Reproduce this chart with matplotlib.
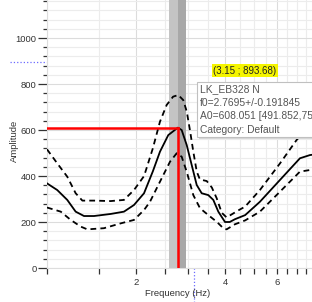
import numpy as np
import matplotlib
matplotlib.use("Agg")
import matplotlib.pyplot as plt
from matplotlib.ticker import FixedLocator, NullFormatter, FixedFormatter
from matplotlib.patches import Rectangle

plt.rcParams['font.family'] = ['Liberation Sans', 'DejaVu Sans']

# median H/V curve
freq_mid = [1.0, 1.083, 1.171, 1.25, 1.334, 1.442, 1.642, 1.821, 1.969, 2.129, 2.28, 2.411,
            2.572, 2.77, 2.854, 2.968, 3.086, 3.209, 3.336, 3.512, 3.652, 3.797, 4.0, 4.15,
            4.32, 4.68, 5.25, 6.14, 7.17, 7.75, 8.4]
amp_mid = [368, 339, 296, 245, 226, 226, 235, 245, 274, 325, 420, 506,
           578, 610, 600, 535, 448, 361, 325, 317, 296, 245, 200, 200,
           212, 230, 288, 383, 477, 491, 497]

# median + std
freq_hi = [1.0, 1.083, 1.171, 1.25, 1.317, 1.442, 1.642, 1.821, 1.969, 2.13, 2.28, 2.41,
           2.54, 2.67, 2.78, 2.89, 2.97, 3.05, 3.125, 3.21, 3.29, 3.47, 3.61, 3.75, 3.9,
           4.05, 4.2, 4.43, 4.68, 5.25, 6.14, 6.99, 7.17, 7.75, 8.4]
amp_hi = [516, 455, 397, 325, 293, 293, 291, 296, 339, 400, 520, 636,
          709, 745, 752, 730, 680, 593, 506, 419, 385, 378, 350, 303, 240,
          220, 232, 250, 267, 339, 455, 557, 572, 600, 625]

# median - std
freq_lo = [1.0, 1.113, 1.203, 1.3, 1.369, 1.558, 1.775, 1.969, 2.129, 2.23, 2.41, 2.606,
           2.746, 2.854, 2.968, 3.125, 3.292, 3.512, 3.75, 3.947, 4.05, 4.32, 4.68, 5.25,
           6.14, 7.17, 7.75, 8.4]
amp_lo = [263, 245, 209, 180, 168, 173, 194, 209, 252, 288, 375, 462,
          499, 484, 419, 317, 260, 230, 201, 173, 168, 190, 207, 245,
          332, 419, 426, 430]

f0 = 2.7695
f0_err = 0.191845
a0 = 608.051
cursor = (3.15, 893.68)

W, H = 312, 302
fig = plt.figure(figsize=(W / 100, H / 100), dpi=100)
ax = fig.add_axes([47 / W, 34 / H, 273 / W, 268 / H])
ax.set_xscale('log')
ax.set_xlim(1.0, 2 ** (273 / 89))
ax.set_ylim(0, 268 / 0.23)

# f0 band
ax.axvspan(f0 - f0_err, f0, color='#c4c4c4', lw=0, zorder=1)
ax.axvspan(f0, f0 + f0_err, color='#a8a8a8', lw=0, zorder=1)

ax.plot(freq_mid, amp_mid, color='black', lw=1.3, zorder=3)
ax.plot(freq_hi, amp_hi, color='black', lw=1.3, ls=(0, (3.2, 2.3)), zorder=3)
ax.plot(freq_lo, amp_lo, color='black', lw=1.3, ls=(0, (3.2, 2.3)), zorder=3)

# red peak markers
ax.plot([1.0, f0], [a0, a0], color='red', lw=1.8, zorder=4)
ax.plot([f0, f0], [0, a0], color='red', lw=1.8, zorder=4)

# ticks and grid
xmaj = [2, 4, 6, 8]
xmin = [v for v in np.arange(1.0, 8.51, 0.5) if v not in xmaj]
ax.xaxis.set_major_locator(FixedLocator(xmaj))
ax.xaxis.set_major_formatter(FixedFormatter([str(v) for v in xmaj]))
ax.xaxis.set_minor_locator(FixedLocator(xmin))
ax.xaxis.set_minor_formatter(NullFormatter())
ax.yaxis.set_major_locator(FixedLocator(np.arange(0, 1001, 200)))
ax.yaxis.set_minor_locator(FixedLocator(np.arange(0, 1161, 40)))

ax.tick_params(axis='both', which='both', colors='#333333', labelsize=6.8, width=0.9)
ax.tick_params(axis='y', which='major', length=6.5, pad=1)
ax.tick_params(axis='y', which='minor', length=3)
ax.tick_params(axis='x', which='major', length=4, pad=3)
ax.tick_params(axis='x', which='minor', length=4)
ax.grid(which='minor', color='#ececec', lw=0.8, zorder=0)
ax.grid(which='major', color='#dcdcdc', lw=0.8, zorder=0)
ax.set_axisbelow(True)
for s in ['top', 'right']:
    ax.spines[s].set_visible(False)
for s in ['left', 'bottom']:
    ax.spines[s].set_color('#dddddd')

# cursor
ax.plot([-37 / 273, 0], [cursor[1], cursor[1]], transform=ax.get_yaxis_transform(),
        color='#6a6aff', lw=0.9, ls=':', clip_on=False)
ax.plot([cursor[0], cursor[0]], [0, -34 / 268], transform=ax.get_xaxis_transform(),
        color='#6a6aff', lw=0.9, ls=':', clip_on=False)
ax.annotate('(3.15 ; 893.68)', xy=cursor, xytext=(19, -8.5), textcoords='offset pixels',
            ha='left', va='center', fontsize=7, color='#222222',
            bbox=dict(boxstyle='square,pad=0.15', fc='#f5f500', ec='none'))

fig.text(14 / W, 1 - 141 / H, 'Amplitude', rotation=90, ha='center', va='center',
         fontsize=6.8, color='#333333')
fig.text(178 / W, 1 - 294 / H, 'Frequency (Hz)', ha='center', va='center',
         fontsize=6.8, color='#333333')

# tooltip
fig.patches.append(Rectangle((199 / W, 1 - 139 / H), 140 / W, 55 / H, transform=fig.transFigure,
                             fc='#d8d8d8', ec='none', zorder=5))
fig.patches.append(Rectangle((197 / W, 1 - 137 / H), 140 / W, 55 / H, transform=fig.transFigure,
                             fc='white', ec='#c0c0c0', lw=0.8, zorder=6))
lines = ['LK_EB328 N', 'f0=2.7695+/-0.191845', 'A0=608.051 [491.852,751.875]', 'Category: Default']
for i, t in enumerate(lines):
    fig.text(200 / W, 1 - (89 + 13.6 * i) / H, t, ha='left', va='center',
             fontsize=7.4, color='#555555', zorder=7)

fig.savefig('out.png', dpi=100)
